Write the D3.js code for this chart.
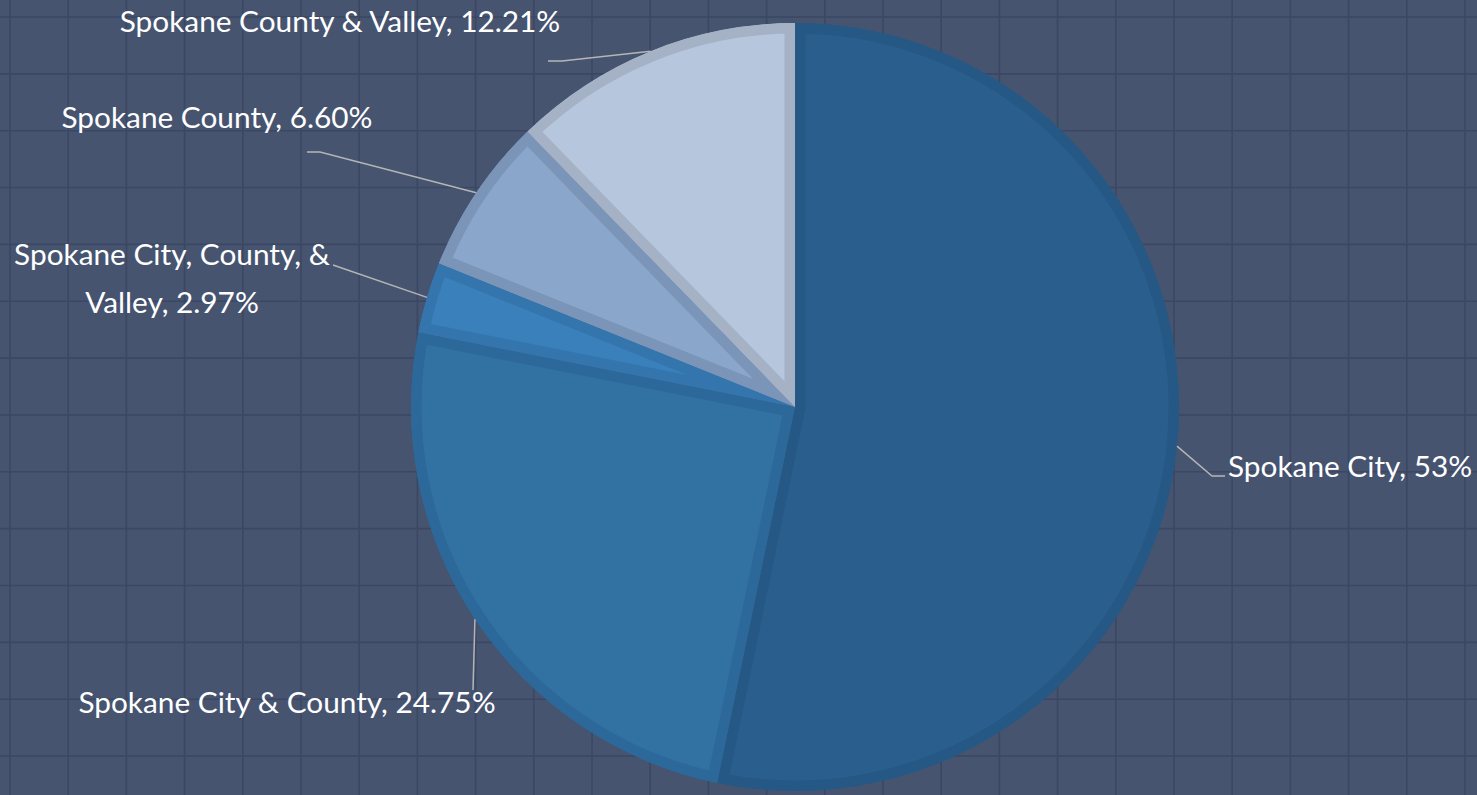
<!DOCTYPE html>
<html>
<head>
<meta charset="utf-8">
<script src="https://cdn.jsdelivr.net/npm/d3@7"></script>
<style>
  html, body { margin: 0; padding: 0; background: #465470; overflow: hidden; }
  text { font-family: Lato, "Open Sans", sans-serif; fill: #ffffff; }
</style>
</head>
<body>
<div id="chart-area"></div>
<script>
// chart data
var categories = ["Spokane City", "Spokane City & County", "Spokane City, County, & Valley",
                  "Spokane County", "Spokane County & Valley"];
var values = [53, 24.75, 2.97, 6.60, 12.21];
var valueLabels = ["53%", "24.75%", "2.97%", "6.60%", "12.21%"];

var fills = ["#2a5f8d", "#3272a2", "#3a80bb", "#8aa7cb", "#b6c6dc"];
var borders = ["#255885", "#2c6899", "#3475ad", "#7b95b8", "#a5b2c6"];

var width = 1477, height = 795;
var cx = 795, cy = 407, radius = 384;

// where each label sits (text lines, anchor point, leader elbow + end)
var labelLayout = [
    { lines: ["Spokane City, 53%"], x: 1228, y: 477, anchor: "start", pts: [[1212, 476], [1225, 476]] },
    { lines: ["Spokane City & County, 24.75%"], x: 287, y: 713, anchor: "middle", pts: [[473, 690]] },
    { lines: ["Spokane City, County, &", "Valley, 2.97%"], x: 172, y: 265, anchor: "middle", pts: [[333, 265]] },
    { lines: ["Spokane County, 6.60%"], x: 217, y: 128, anchor: "middle", pts: [[320, 152], [307, 152]] },
    { lines: ["Spokane County & Valley, 12.21%"], x: 340, y: 32, anchor: "middle", pts: [[562, 61], [548, 61]] }
];

var svg = d3.select("#chart-area").append("svg")
    .attr("width", width)
    .attr("height", height);

// background grid
var xGrid = d3.range(10, width, 58.2);
var yGrid = d3.range(17, height, 56.85);

svg.append("rect")
    .attr("width", width)
    .attr("height", height)
    .attr("fill", "#465470");

svg.selectAll(".vgrid")
    .data(xGrid)
    .enter()
    .append("line")
    .attr("x1", d => d).attr("x2", d => d)
    .attr("y1", 0).attr("y2", height)
    .attr("stroke", "#3b4763")
    .attr("stroke-width", 1.6);

svg.selectAll(".hgrid")
    .data(yGrid)
    .enter()
    .append("line")
    .attr("y1", d => d).attr("y2", d => d)
    .attr("x1", 0).attr("x2", width)
    .attr("stroke", "#3b4763")
    .attr("stroke-width", 1.6);

var pie = d3.pie().sort(null).value(d => d);
var arcs = pie(values);

var arc = d3.arc()
    .innerRadius(0)
    .outerRadius(radius);

var g = svg.append("g")
    .attr("transform", "translate(" + cx + "," + cy + ")");

var defs = svg.append("defs");
arcs.forEach((d, i) => {
    defs.append("clipPath")
        .attr("id", "clip" + i)
        .append("path")
        .attr("d", arc(d));
});

// slices: stroke clipped to the slice so the border sits inside
g.selectAll(".slice")
    .data(arcs)
    .enter()
    .append("path")
    .attr("d", arc)
    .attr("clip-path", (d, i) => "url(#clip" + i + ")")
    .attr("fill", (d, i) => fills[i])
    .attr("stroke", (d, i) => borders[i])
    .attr("stroke-width", 21)
    .attr("stroke-linejoin", "miter");

// leader lines start on the outer edge at the slice's mid angle
arcs.forEach((d, i) => {
    var a = (d.startAngle + d.endAngle) / 2;
    var start = [cx + Math.sin(a) * radius, cy - Math.cos(a) * radius];
    var pts = [start].concat(labelLayout[i].pts);
    svg.append("path")
        .attr("d", d3.line()(pts))
        .attr("fill", "none")
        .attr("stroke", "#b5b5b5")
        .attr("stroke-width", 1.5);
});

labelLayout.forEach((l, i) => {
    var t = svg.append("text")
        .attr("x", l.x)
        .attr("y", l.y)
        .attr("text-anchor", l.anchor)
        .style("font-size", "29.8px");
    l.lines.forEach((line, j) => {
        t.append("tspan")
            .attr("x", l.x)
            .attr("dy", j == 0 ? 0 : 48)
            .text(line);
    });
});
</script>
</body>
</html>
